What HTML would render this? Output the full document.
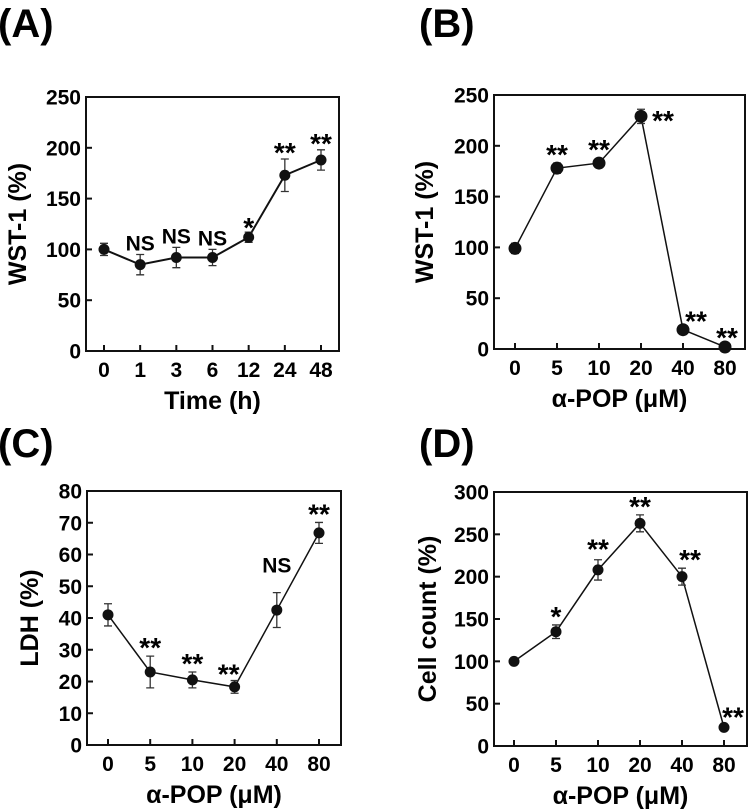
<!DOCTYPE html>
<html><head><meta charset="utf-8"><style>
html,body{margin:0;padding:0;background:#fff;}
svg{display:block;font-family:"Liberation Sans",Arial,sans-serif;}
</style></head><body>
<svg id="fig" width="749" height="810" viewBox="0 0 749 810"></svg>
<script>
const catsA = ["0","1","3","6","12","24","48"];
const valsA = [100,85,92,92,112,173,188];
const errsA = [6,10,10,8,5,16,10];
const sigA  = ["","NS","NS","NS","*","**","**"];
const ticksA = [0,50,100,150,200,250];

const catsB = ["0","5","10","20","40","80"];
const valsB = [99,178,183,229,19,2];
const errsB = [5,5,3,7,2,1];
const sigB  = ["","**","**","**","**","**"];
const ticksB = [0,50,100,150,200,250];

const catsC = ["0","5","10","20","40","80"];
const valsC = [41,23,20.5,18.3,42.5,66.8];
const errsC = [3.5,5,2.5,2,5.5,3.3];
const sigC  = ["","**","**","**","NS","**"];
const ticksC = [0,10,20,30,40,50,60,70,80];

const catsD = ["0","5","10","20","40","80"];
const valsD = [100,135,208,263,200,22];
const errsD = [2,8,12,10,10,2];
const sigD  = ["","*","**","**","**","**"];
const ticksD = [0,50,100,150,200,250,300];

const NS = "http://www.w3.org/2000/svg";
const svg = document.getElementById('fig');
function mk(tag, attrs, parent){
  const e = document.createElementNS(NS, tag);
  for (const k in attrs) e.setAttribute(k, attrs[k]);
  (parent||svg).appendChild(e);
  return e;
}
function txt(s, attrs, parent){ const t = mk('text', attrs, parent); t.textContent = s; return t; }

function panel(o){
  const g = mk('g', {});
  
  
  const ymax = o.ticks[o.ticks.length-1];
  const yS = v => o.y1 - (v / ymax) * (o.y1 - o.y0);
  const step = (o.xl - o.xf) / (o.cats.length - 1);
  const xS = i => o.xf + i * step;
  const lab = txt(o.label, {x:o.lx, y:o.ly, 'font-size':40, 'font-weight':'bold'}, g);
  
  
  const box = mk('rect', {x:o.bx0, y:o.y0, width:o.bx1-o.bx0, height:o.y1-o.y0, fill:'none', stroke:'#111', 'stroke-width':2}, g);
  
  
  o.ticks.forEach(t => {
    const y = yS(t);
    mk('line', {x1:o.bx0, x2:o.bx0+6, y1:y, y2:y, stroke:'#111', 'stroke-width':2}, g);
    const tl = txt(String(t), {x:o.bx0-5, y:y+7.5, 'font-size':21, 'font-weight':'bold', 'text-anchor':'end'}, g);
    
    
  });
  o.cats.forEach((c, i) => {
    const x = xS(i);
    mk('line', {x1:x, x2:x, y1:o.y1, y2:o.y1-6, stroke:'#111', 'stroke-width':2}, g);
    const tl = txt(c, {x:x, y:o.y1+26, 'font-size':21, 'font-weight':'bold', 'text-anchor':'middle'}, g);
    
    
  });
  const yt = txt(o.ytitle, {x:0, y:0, 'font-size':25, 'font-weight':'bold', 'text-anchor':'middle', transform:`translate(${o.ytx},${(o.y0+o.y1)/2}) rotate(-90)`}, g);
  
  
  const xt = txt(o.xtitle, {x:(o.bx0+o.bx1)/2+(o.xtdx||0), y:o.y1+58, 'font-size':25, 'font-weight':'bold', 'text-anchor':'middle'}, g);
  
  
  const pts = o.vals.map((v,i) => xS(i) + ',' + yS(v)).join(' ');
  const pl = mk('polyline', {points:pts, fill:'none', stroke:'#111', 'stroke-width':o.lw}, g);
  
  
  o.vals.forEach((v, i) => {
    const x = xS(i), yt2 = yS(v + o.errs[i]), yb = yS(v - o.errs[i]);
    const eb = mk('path', {d:`M${x},${yt2}V${yb}M${x-4},${yt2}H${x+4}M${x-4},${yb}H${x+4}`, stroke:'#333', 'stroke-width':1.3, fill:'none'}, g);
    
    
    const c = mk('circle', {cx:x, cy:yS(v), r:o.r, fill:'#111'}, g);
    
    
    const s = o.sig[i];
    if (s) {
      const off = (o.sigOff && o.sigOff[i]) || [0,0];
      const isStar = s.indexOf('*') >= 0;
      const st = txt(s, {x:x+off[0], y:yt2 - (isStar ? -7 : 4) + off[1], 'font-size':isStar?28:21, 'font-weight':'bold', 'text-anchor':'middle'}, g);
      
      
    }
  });
}

panel({id:'a', label:'(A)', lx:-2, ly:37, bx0:86, bx1:339, y0:97, y1:351, xf:104, xl:321,
  cats:catsA, vals:valsA, errs:errsA, sig:sigA, ticks:ticksA, ytitle:'WST-1 (%)', ytx:26, xtitle:'Time (h)', lw:2, r:5.5,
  sigOff:[null,null,null,null,[0,-2],[0,-4],[0,-4]]});
panel({id:'b', label:'(B)', lx:419, ly:37, bx0:494, bx1:745, y0:95, y1:349, xf:515, xl:725,
  cats:catsB, vals:valsB, errs:errsB, sig:sigB, ticks:ticksB, ytitle:'WST-1 (%)', ytx:433, xtitle:'α-POP (μM)', lw:1.5, r:6.5,
  sigOff:[null,[0,-6],[0,-8],[22,14],[13,-4],[2,-6]]});
panel({id:'c', label:'(C)', lx:-2, ly:457, bx0:87, bx1:341, y0:491, y1:745, xf:108, xl:319,
  cats:catsC, vals:valsC, errs:errsC, sig:sigC, ticks:ticksC, ytitle:'LDH (%)', ytx:38, xtitle:'α-POP (μM)', lw:1.5, r:5.5,
  sigOff:[null,[0,-6],[0,-6],[-6,-4],[0,-16],[0,-6]]});
panel({id:'d', label:'(D)', lx:419, ly:457, bx0:494, bx1:747, y0:492, y1:746, xf:514, xl:724,
  cats:catsD, vals:valsD, errs:errsD, sig:sigD, ticks:ticksD, ytitle:'Cell count (%)', ytx:436, xtitle:'α-POP (μM)', lw:1.5, r:5.5,
  sigOff:[null,[0,-6],[0,-8],[0,-6],[8,-6],[9,-6]]});
</script>
</body></html>
